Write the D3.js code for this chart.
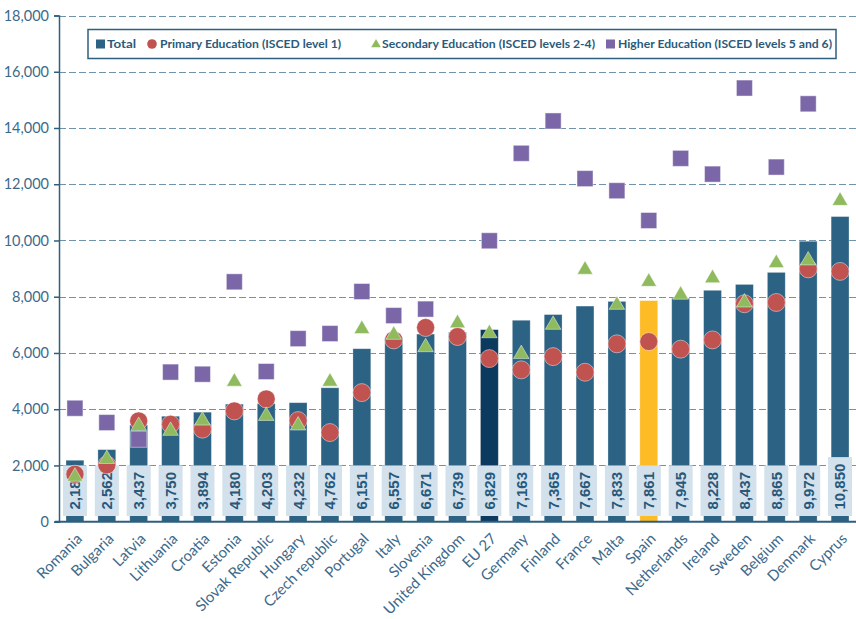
<!DOCTYPE html>
<html>
<head>
<meta charset="utf-8">
<script src="https://cdn.jsdelivr.net/npm/d3@7"></script>
<style>
  body { margin: 0; background: #fff; }
  svg { display: block; }
</style>
</head>
<body>
<svg id="chart"></svg>
<script>
const countries = [
  "Romania", "Bulgaria", "Latvia", "Lithuania", "Croatia", "Estonia",
  "Slovak Republic", "Hungary", "Czech republic", "Portugal", "Italy",
  "Slovenia", "United Kingdom", "EU 27", "Germany", "Finland", "France",
  "Malta", "Spain", "Netherlands", "Ireland", "Sweden", "Belgium",
  "Denmark", "Cyprus"
];
const total = [
  2185, 2562, 3437, 3750, 3894, 4180, 4203, 4232, 4762, 6151, 6557, 6671,
  6739, 6829, 7163, 7365, 7667, 7833, 7861, 7945, 8228, 8437, 8865, 9972, 10850
];
const primary = [
  1690, 2020, 3585, 3465, 3290, 3940, 4365, 3595, 3170, 4590, 6465, 6905,
  6585, 5800, 5400, 5870, 5315, 6325, 6405, 6135, 6465, 7750, 7795, 8990, 8900
];
const secondary = [
  1600, 2230, 3405, 3230, 3595, 4980, 3760, 3420, 4980, 6850, 6645, 6205,
  7060, 6700, 5960, 7000, 8960, 7710, 8530, 8070, 8660, 7795, 9195, 9290, 11410
];
// null = no value shown
const higher = [
  4035, 3525, 2930, 5320, 5245, 8530, 5340, 6510, 6690, 8185, 7330, 7560,
  null, 9990, 13100, 14250, 12200, 11770, 10710, 12920, 12360, 15420, 12610, 14860, null
];
const yTicks = [0, 2000, 4000, 6000, 8000, 10000, 12000, 14000, 16000, 18000];
const legendLabels = [
  "Total",
  "Primary Education (ISCED level 1)",
  "Secondary Education (ISCED levels 2-4)",
  "Higher Education (ISCED levels 5 and 6)"
];

const width = 856;
const height = 619;
const axisColor = "#2f5f7f";
const textColor = "#3d6a8a";

const svg = d3.select("#chart").attr("width", width).attr("height", height);

const x = d3.scaleBand().domain(countries).range([59, 856]).paddingInner(0.44).paddingOuter(0.22);
const y = d3.scaleLinear().domain([0, 18000]).range([521.7, 15.5]);

// gridlines
svg.append("g")
  .selectAll("line")
  .data(yTicks.filter(d => d > 0))
  .enter()
  .append("line")
  .attr("x1", 59)
  .attr("x2", 856)
  .attr("y1", d => Math.round(y(d)) + 0.5)
  .attr("y2", d => Math.round(y(d)) + 0.5)
  .attr("stroke", "#6f93a8")
  .attr("stroke-width", 1.2)
  .attr("stroke-dasharray", "7,3");

// y axis
const yAxis = svg.append("g")
  .attr("transform", "translate(59,0)")
  .call(d3.axisLeft(y).tickValues(yTicks).tickSize(5).tickPadding(5).tickFormat(d3.format(",")));
yAxis.select(".domain").attr("stroke", axisColor).attr("stroke-width", 1.5);
yAxis.selectAll(".tick line").attr("stroke", axisColor).attr("stroke-width", 1.5);
yAxis.selectAll(".tick text")
  .attr("fill", textColor)
  .style("font-family", "Lato, 'Open Sans', sans-serif")
  .style("font-size", "14.5px");

// bars
const barColor = d => d === "EU 27" ? "#0b3a5e" : d === "Spain" ? "#fdbc26" : "#2c6283";
svg.append("g")
  .selectAll("rect")
  .data(countries)
  .enter()
  .append("rect")
  .attr("x", d => x(d))
  .attr("width", x.bandwidth())
  .attr("y", (d, i) => y(total[i]))
  .attr("height", (d, i) => y(0) - y(total[i]))
  .attr("fill", barColor)
  .attr("stroke", "#ffffff")
  .attr("stroke-opacity", 0.35)
  .attr("stroke-width", 0.8);

// x axis
const xAxis = svg.append("g")
  .attr("transform", `translate(0,${y(0)})`)
  .call(d3.axisBottom(x).tickSize(0).tickFormat(""));
xAxis.select(".domain")
  .attr("d", "M55,0H856")
  .attr("stroke", axisColor)
  .attr("stroke-width", 2);

// value label boxes
const labelFormat = d3.format(",");
const labels = svg.append("g");
const labelGroups = labels.selectAll("g")
  .data(countries)
  .enter()
  .append("g");
const boxes = labelGroups.append("rect")
  .attr("fill", "#d2e1ec");

// markers
const cx = d => x(d) + x.bandwidth() / 2;
const markerStroke = sel => sel.attr("stroke", "#ffffff").attr("stroke-opacity", 0.45).attr("stroke-width", 1);

svg.append("g")
  .selectAll("rect")
  .data(countries.filter((d, i) => higher[i] != null))
  .enter()
  .append("rect")
  .attr("x", d => cx(d) - 8)
  .attr("y", d => y(higher[countries.indexOf(d)]) - 8)
  .attr("width", 16)
  .attr("height", 16)
  .attr("fill", "#7b67a8")
  .call(markerStroke);

svg.append("g")
  .selectAll("circle")
  .data(countries)
  .enter()
  .append("circle")
  .attr("cx", cx)
  .attr("cy", (d, i) => y(primary[i]))
  .attr("r", 9)
  .attr("fill", "#c0534f")
  .call(markerStroke);

const tri = d3.symbol().type(d3.symbolTriangle).size(105);
svg.append("g")
  .selectAll("path")
  .data(countries)
  .enter()
  .append("path")
  .attr("d", tri)
  .attr("transform", (d, i) => `translate(${cx(d)},${y(secondary[i])})`)
  .attr("fill", "#8fbb5e")
  .call(markerStroke);

// value label texts (on top)
const valueTexts = labels.selectAll("text.value")
  .data(countries)
  .enter()
  .append("text")
  .attr("class", "value")
  .attr("transform", d => `translate(${cx(d) + 5.4},509.5) rotate(-90)`)
  .attr("text-anchor", "start")
  .attr("fill", "#28587a")
  .style("font-family", "'Liberation Sans', Arial, sans-serif")
  .style("font-weight", "bold")
  .style("font-size", "15px")
  .text((d, i) => labelFormat(total[i]));

valueTexts.each(function(d, i) {
  const len = this.getComputedTextLength();
  boxes.filter((e, j) => j === i)
    .attr("x", cx(d) - 12)
    .attr("width", 24)
    .attr("y", 516 - len - 13)
    .attr("height", len + 13);
});

// category labels
svg.append("g")
  .selectAll("text")
  .data(countries)
  .enter()
  .append("text")
  .attr("transform", d => `translate(${cx(d) + 8},${y(0) + 18}) rotate(-45)`)
  .attr("text-anchor", "end")
  .attr("fill", textColor)
  .style("font-family", "Lato, 'Open Sans', sans-serif")
  .style("font-size", "15px")
  .text(d => d);

// legend
const legend = svg.append("g");
legend.append("rect")
  .attr("x", 88)
  .attr("y", 29.5)
  .attr("width", 748)
  .attr("height", 29)
  .attr("fill", "#fff")
  .attr("stroke", axisColor)
  .attr("stroke-width", 1.5);

const legendX = [107, 160, 382, 618];
const legendW = [29, 181, 213, 214];
const ly = 44;
legend.append("rect").attr("x", 96).attr("y", ly - 4.5).attr("width", 9).attr("height", 9).attr("fill", "#2c6283");
legend.append("circle").attr("cx", 152).attr("cy", ly).attr("r", 4.8).attr("fill", "#c0534f");
legend.append("path").attr("d", d3.symbol().type(d3.symbolTriangle).size(40)).attr("transform", `translate(376,${ly + 0.5})`).attr("fill", "#8fbb5e");
legend.append("rect").attr("x", 606).attr("y", ly - 4.5).attr("width", 9).attr("height", 9).attr("fill", "#7b67a8");

legend.selectAll("text")
  .data(legendLabels)
  .enter()
  .append("text")
  .attr("x", (d, i) => legendX[i])
  .attr("y", ly)
  .attr("dy", "0.35em")
  .attr("textLength", (d, i) => legendW[i])
  .attr("lengthAdjust", "spacingAndGlyphs")
  .attr("fill", "#2b5a7a")
  .style("font-family", "Lato, 'Open Sans', sans-serif")
  .style("font-weight", "bold")
  .style("font-size", "12px")
  .text(d => d);
</script>
</body>
</html>
